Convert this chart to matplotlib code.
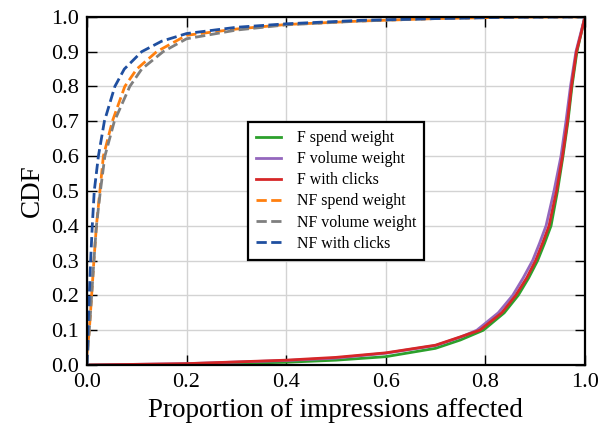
import matplotlib
matplotlib.use("Agg")
import matplotlib.pyplot as plt

# CDF points (proportion affected -> cumulative fraction)
f_spend_x = [0.0, 0.2, 0.4, 0.5, 0.6, 0.7, 0.75, 0.796, 0.838, 0.866, 0.887, 0.905, 0.919, 0.932,
             0.945, 0.956, 0.966, 0.974, 0.984, 0.992, 1.0]
f_spend_y = [0.0, 0.002, 0.008, 0.014, 0.024, 0.048, 0.072, 0.1, 0.15, 0.2, 0.25, 0.3, 0.35, 0.4,
             0.5, 0.6, 0.7, 0.8, 0.9, 0.95, 1.0]

f_volume_x = [0.0, 0.2, 0.4, 0.5, 0.6, 0.7, 0.75, 0.783, 0.826, 0.855, 0.876, 0.895, 0.909, 0.922,
              0.938, 0.952, 0.962, 0.971, 0.982, 0.991, 1.0]
f_volume_y = [0.0, 0.004, 0.013, 0.02, 0.034, 0.056, 0.08, 0.1, 0.15, 0.2, 0.25, 0.3, 0.35, 0.4,
              0.5, 0.6, 0.7, 0.8, 0.9, 0.95, 1.0]

f_clicks_x = [0.0, 0.2, 0.4, 0.5, 0.6, 0.7, 0.75, 0.789, 0.833, 0.861, 0.883, 0.901, 0.915, 0.928,
              0.943, 0.955, 0.965, 0.973, 0.983, 0.992, 1.0]
f_clicks_y = [0.0, 0.004, 0.014, 0.022, 0.035, 0.057, 0.081, 0.1, 0.15, 0.2, 0.25, 0.3, 0.35, 0.4,
              0.5, 0.6, 0.7, 0.8, 0.9, 0.95, 1.0]

nf_spend_x = [0.0, 0.0047, 0.0094, 0.014, 0.019, 0.026, 0.033, 0.051, 0.076, 0.1, 0.14, 0.2, 0.3,
              0.4, 0.55, 0.7, 0.85, 1.0]
nf_spend_y = [0.03, 0.1, 0.2, 0.3, 0.4, 0.5, 0.6, 0.7, 0.8, 0.85, 0.9, 0.947, 0.965,
              0.978, 0.988, 0.995, 0.999, 1.0]

nf_volume_x = [0.0, 0.0047, 0.0094, 0.014, 0.019, 0.027, 0.036, 0.055, 0.086, 0.11, 0.153, 0.2, 0.3,
               0.4, 0.55, 0.7, 0.85, 1.0]
nf_volume_y = [0.0, 0.1, 0.2, 0.3, 0.4, 0.5, 0.6, 0.7, 0.8, 0.85, 0.9, 0.937, 0.962,
               0.977, 0.988, 0.995, 0.999, 1.0]

nf_clicks_x = [0.0, 0.002, 0.0047, 0.0074, 0.0107, 0.0147, 0.023, 0.035, 0.056, 0.075, 0.11, 0.15,
               0.2, 0.3, 0.4, 0.55, 0.7, 0.85, 1.0]
nf_clicks_y = [0.0, 0.1, 0.2, 0.3, 0.4, 0.5, 0.6, 0.7, 0.8, 0.85, 0.9, 0.93,
               0.952, 0.97, 0.98, 0.99, 0.995, 0.999, 1.0]

ticks = [0.0, 0.2, 0.4, 0.6, 0.8, 1.0]
yticks = [0.0, 0.1, 0.2, 0.3, 0.4, 0.5, 0.6, 0.7, 0.8, 0.9, 1.0]

plt.rcParams["font.family"] = ["Liberation Serif", "DejaVu Serif"]

fig = plt.figure(figsize=(6.08, 4.32), dpi=100)
ax = fig.add_axes([0.143, 0.155, 0.819, 0.806])

lw = 2
ax.plot(f_spend_x, f_spend_y, color="#2ca02c", lw=lw, label="F spend weight")
ax.plot(f_volume_x, f_volume_y, color="#9467bd", lw=lw, label="F volume weight")
ax.plot(f_clicks_x, f_clicks_y, color="#d62728", lw=lw, label="F with clicks")
ax.plot(nf_spend_x, nf_spend_y, color="#ff7f0e", lw=lw, ls="--", label="NF spend weight")
ax.plot(nf_volume_x, nf_volume_y, color="#7f7f7f", lw=lw, ls="--", label="NF volume weight")
ax.plot(nf_clicks_x, nf_clicks_y, color="#1f4fa0", lw=lw, ls="--", label="NF with clicks")

ax.set_xlim(0, 1)
ax.set_ylim(0, 1)
ax.set_xticks(ticks)
ax.set_yticks(yticks)
ax.set_xticklabels([f"{t:.1f}" for t in ticks])
ax.set_yticklabels([f"{t:.1f}" for t in yticks])
ax.tick_params(direction="in", length=7, width=1, labelsize=16,
               top=True, right=True, pad=6)
ax.grid(True, color="#d3d3d3", lw=1)
ax.set_axisbelow(True)
for s in ax.spines.values():
    s.set_linewidth(1.6)

ax.set_xlabel("Proportion of impressions affected", fontsize=19.5)
ax.set_ylabel("CDF", fontsize=19.5)

leg = ax.legend(loc="center", fontsize=11.4, fancybox=False, framealpha=1,
                edgecolor="black", labelspacing=0.32, handlelength=1.6,
                handletextpad=1.0, borderpad=0.5)
leg.get_frame().set_linewidth(1.6)

fig.savefig("out.png", dpi=100)
